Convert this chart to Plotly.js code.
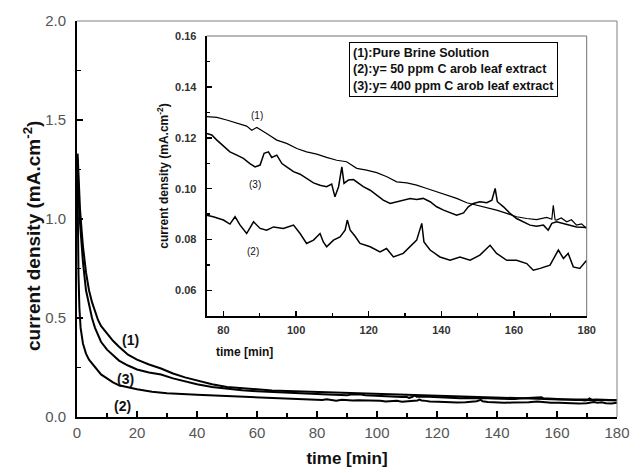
<!DOCTYPE html>
<html>
<head>
<meta charset="utf-8">
<script src="https://cdn.plot.ly/plotly-3.0.1.min.js"></script>
<style>html,body{margin:0;padding:0;background:#fff;}#chart{width:641px;height:473px;}</style>
</head>
<body>
<div id="chart"></div>
<script>
// ---------- data ----------
// early part (main chart only), time in min, current density in mA.cm-2
const s1EarlyT = [0.2,0.5,1,1.5,2,3,4,5,6,7,8,10,12,14,17,20,24,28,32,36,40,45,50,55,60,65,70];
const s1EarlyV = [1.33,1.2,1.05,0.95,0.86,0.73,0.64,0.58,0.53,0.49,0.46,0.42,0.385,0.355,0.315,0.29,0.265,0.245,0.22,0.2,0.185,0.165,0.152,0.145,0.138,0.134,0.131];
const s3EarlyT = [0.2,0.5,1,1.5,2,3,4,5,6,7,8,10,12,14,17,20,24,28,32,36,40,45,50,55,60,65,70];
const s3EarlyV = [1.3,1.12,0.98,0.87,0.78,0.64,0.56,0.5,0.45,0.41,0.38,0.34,0.31,0.285,0.26,0.24,0.225,0.215,0.195,0.18,0.165,0.152,0.142,0.135,0.13,0.127,0.124];
const s2EarlyT = [0.15,0.3,0.5,0.8,1.2,2,3,4,5,6.5,8,10,12,14,17,20,25,30,40,50,60,70];
const s2EarlyV = [1.2,0.95,0.72,0.55,0.45,0.37,0.32,0.29,0.27,0.24,0.215,0.195,0.175,0.16,0.15,0.14,0.128,0.12,0.112,0.105,0.1,0.093];

// late part (shown in both main chart and inset)
const s1LateT = [75.4,78.2,80.9,83.7,86.4,87.8,89.2,91.9,94.7,97.4,100.2,102.9,105.7,108.4,111.2,113.9,116.7,119.4,122.2,125.0,127.7,130.5,133.2,136.0,138.7,141.5,144.2,147.0,149.7,152.5,155.2,158.0,160.7,163.5,166.2,169.0,170.4,170.8,171.3,171.7,173.0,174.5,175.8,177.2,178.6,180];
const s1LateV = [0.1283,0.1280,0.1270,0.1257,0.1246,0.1230,0.1241,0.1217,0.1191,0.1178,0.1158,0.1145,0.1136,0.1123,0.1112,0.1106,0.1080,0.1073,0.1063,0.1047,0.1027,0.1023,0.1014,0.1001,0.0988,0.0975,0.0962,0.0945,0.0936,0.0926,0.0916,0.0903,0.0890,0.0883,0.0879,0.0887,0.0880,0.0935,0.0878,0.0877,0.0885,0.0870,0.0878,0.0857,0.0862,0.0844];
const s3LateT = [75.4,76.8,78.2,80.0,81.8,83.7,85.5,87.3,88.7,90.1,91.2,92.4,93.3,94.7,96.1,97.4,99.3,101.1,102.9,104.8,106.6,108.4,109.8,110.7,111.7,112.6,113.2,114.4,115.8,117.2,118.5,120.4,122.2,124.0,125.9,127.7,129.5,131.4,133.2,135.0,136.9,138.7,140.6,142.4,144.2,146.1,147.4,148.8,150.6,152.5,153.9,154.8,155.4,157.1,158.9,160.7,162.6,164.4,166.2,168.1,169.4,170.4,171.7,173.6,175.4,177.2,180];
const s3LateV = [0.1217,0.1211,0.1191,0.1168,0.1145,0.1132,0.1119,0.1099,0.1086,0.1093,0.1139,0.1145,0.1123,0.1132,0.1099,0.1086,0.1067,0.1057,0.1040,0.1023,0.1014,0.1008,0.1018,0.0968,0.1008,0.1086,0.1021,0.1034,0.1036,0.1021,0.1008,0.0994,0.0975,0.0955,0.0942,0.0949,0.0955,0.0962,0.0958,0.0962,0.0949,0.0929,0.0916,0.0905,0.0896,0.0905,0.0929,0.0942,0.0949,0.0945,0.0955,0.1001,0.0949,0.0929,0.0903,0.0883,0.0870,0.0857,0.0853,0.0857,0.0837,0.0864,0.0870,0.0864,0.0857,0.0850,0.0848];
const s2LateT = [75.4,77.2,80.0,81.8,83.2,84.6,86.4,88.3,90.1,91.9,93.8,96.5,99.3,101.1,102.9,104.8,106.6,107.5,108.4,110.3,112.1,113.5,114.1,114.9,116.2,117.6,120.4,123.1,124.9,126.8,129.5,131.4,133.2,134.6,135.2,136.9,139.6,142.4,145.1,147.9,150.6,153.4,155.2,158.0,160.7,163.5,165.3,167.2,169.9,172.2,173.6,174.9,176.3,178.1,180];
const s2LateV = [0.0896,0.0890,0.0877,0.0861,0.0890,0.0857,0.0824,0.0870,0.0844,0.0837,0.0850,0.0844,0.0857,0.0824,0.0785,0.0798,0.0824,0.0791,0.0772,0.0798,0.0811,0.0837,0.0877,0.0837,0.0814,0.0785,0.0772,0.0752,0.0765,0.0732,0.0746,0.0772,0.0798,0.0864,0.0791,0.0759,0.0732,0.0719,0.0732,0.0719,0.0739,0.0778,0.0746,0.0719,0.0719,0.0706,0.0680,0.0687,0.0700,0.0759,0.0726,0.0746,0.0693,0.0687,0.0719];

const mainXTicks = [0,20,40,60,80,100,120,140,160,180];
const mainYTicks = [0,0.5,1,1.5,2];
const insetXTicks = [80,100,120,140,160,180];
const insetYTicks = [0.06,0.08,0.10,0.12,0.14,0.16];
const seriesNames = ['(1):Pure Brine Solution','(2):y= 50 ppm C arob leaf extract','(3):y= 400 ppm C arob leaf extract'];
const xTitle = 'time [min]';
const yTitle = 'current density (mA.cm<sup>-2</sup>)';

// ---------- traces ----------
const F = 'Arial, "Liberation Sans", sans-serif';
function mainTrace(t, v, name) {
  return {x: t, y: v, name: name, type: 'scatter', mode: 'lines', xaxis: 'x', yaxis: 'y',
          line: {color: '#000', width: 2}, hoverinfo: 'skip'};
}
function insetTrace(t, v, name, w) {
  return {x: t, y: v, name: name, type: 'scatter', mode: 'lines', xaxis: 'x2', yaxis: 'y2',
          line: {color: '#000', width: w}, hoverinfo: 'skip'};
}
const data = [
  mainTrace(s1EarlyT.concat(s1LateT), s1EarlyV.concat(s1LateV), seriesNames[0]),
  mainTrace(s2EarlyT.concat(s2LateT), s2EarlyV.concat(s2LateV), seriesNames[1]),
  mainTrace(s3EarlyT.concat(s3LateT), s3EarlyV.concat(s3LateV), seriesNames[2]),
  insetTrace(s1LateT, s1LateV, seriesNames[0], 1.2),
  insetTrace(s2LateT, s2LateV, seriesNames[1], 1.5),
  insetTrace(s3LateT, s3LateV, seriesNames[2], 1.5)
];

const frameShapes = [
  {type:'line', xref:'x domain', yref:'y domain', x0:0, x1:1, y0:1, y1:1, line:{color:'#808080', width:1}},
  {type:'line', xref:'x domain', yref:'y domain', x0:1, x1:1, y0:0, y1:1, line:{color:'#808080', width:1}},
  {type:'line', xref:'x2 domain', yref:'y2 domain', x0:0, x1:1, y0:1, y1:1, line:{color:'#707070', width:1}},
  {type:'line', xref:'x2 domain', yref:'y2 domain', x0:1, x1:1, y0:0, y1:1, line:{color:'#707070', width:1}}
];

const layout = {
  width: 641, height: 473,
  margin: {l: 0, r: 0, t: 0, b: 0},
  paper_bgcolor: '#fff', plot_bgcolor: 'rgba(0,0,0,0)',
  showlegend: false,
  font: {family: F, color: '#000'},
  xaxis: {
    domain: [77/641, 617/641], range: [0, 180], tickvals: mainXTicks,
    ticks: 'inside', ticklen: 6, tickwidth: 1.5, tickcolor: '#000',
    minor: {tickvals: [10,30,50,70,90,110,130,150,170], ticks: 'inside', ticklen: 4, tickwidth: 1.5, tickcolor: '#000'},
    showline: true, linewidth: 2, linecolor: '#000', mirror: false,
    showgrid: false, zeroline: false,
    tickfont: {family: F, size: 15, color: '#555'}, ticklabelstandoff: 1,
    title: {text: xTitle, font: {family: F, size: 17, weight: 'bold', color: '#111'}, standoff: 12}
  },
  yaxis: {
    domain: [56/473, 452/473], range: [0, 2], tickvals: mainYTicks, tickformat: '.1f',
    ticks: 'inside', ticklen: 6, tickwidth: 1.5, tickcolor: '#000',
    minor: {tickvals: [0.25,0.75,1.25,1.75], ticks: 'inside', ticklen: 4, tickwidth: 1.5, tickcolor: '#000'},
    showline: true, linewidth: 2, linecolor: '#000', mirror: false,
    showgrid: false, zeroline: false,
    tickfont: {family: F, size: 15, color: '#555'}, ticklabelstandoff: 6
  },
  xaxis2: {
    domain: [206.7/641, 586.7/641], range: [75.4, 180], anchor: 'y2', tickvals: insetXTicks,
    ticks: 'inside', ticklen: 5, tickwidth: 1.5, tickcolor: '#000',
    minor: {tickvals: [90,110,130,150,170], ticks: 'inside', ticklen: 3, tickwidth: 1.5, tickcolor: '#000'},
    showline: true, linewidth: 2, linecolor: '#000', mirror: false,
    showgrid: false, zeroline: false,
    tickfont: {family: F, size: 11, color: '#333', weight: 'bold'}, ticklabelstandoff: 3
  },
  yaxis2: {
    domain: [157/473, 437/473], range: [0.05, 0.16], anchor: 'x2', tickvals: insetYTicks, tickformat: '.2f',
    ticks: 'inside', ticklen: 5, tickwidth: 1.5, tickcolor: '#000',
    minor: {tickvals: [0.07,0.09,0.11,0.13,0.15], ticks: 'inside', ticklen: 3, tickwidth: 1.5, tickcolor: '#000'},
    showline: true, linewidth: 2, linecolor: '#000', mirror: false,
    showgrid: false, zeroline: false,
    tickfont: {family: F, size: 11, color: '#333', weight: 'bold'}, ticklabelstandoff: 6,
    title: {text: yTitle, font: {family: F, size: 12, weight: 'bold', color: '#111'}, standoff: 4}
  },
  shapes: frameShapes,
  annotations: [
    // main y-axis title
    {xref:'paper', yref:'paper', x: 32/641, y: (473-236)/473, xanchor:'center', yanchor:'middle', textangle:-90,
     text: yTitle, showarrow:false, font:{family:F, size:19, weight:'bold', color:'#111'}},
    // legend box
    {xref:'paper', yref:'paper', x: 349/641, y: (473-42)/473, xanchor:'left', yanchor:'top', align:'left',
     text: seriesNames.join('<br>'), showarrow:false,
     font:{family:F, size:12.5, weight:'bold', color:'#111'},
     bordercolor:'#000', borderwidth:1, borderpad:3, bgcolor:'#fff'},
    {xref:'x', yref:'y', x: 17.7, y: 0.389, text:'(1)', showarrow:false, font:{family:F, size:14, weight:'bold', color:'#111'}},
    {xref:'x', yref:'y', x: 16.0, y: 0.192, text:'(3)', showarrow:false, font:{family:F, size:14, weight:'bold', color:'#111'}},
    {xref:'x', yref:'y', x: 15.3, y: 0.056, text:'(2)', showarrow:false, font:{family:F, size:14, weight:'bold', color:'#111'}},
    {xref:'x2', yref:'y2', x: 89.3, y: 0.1286, text:'(1)', showarrow:false, font:{family:F, size:10, color:'#111'}},
    {xref:'x2', yref:'y2', x: 88.7, y: 0.1016, text:'(3)', showarrow:false, font:{family:F, size:10, color:'#111'}},
    {xref:'x2', yref:'y2', x: 88.1, y: 0.0755, text:'(2)', showarrow:false, font:{family:F, size:10, color:'#111'}},
    // inset x-axis title
    {xref:'paper', yref:'paper', x: 214/641, y: (473-352)/473, xanchor:'left', yanchor:'middle',
     text: xTitle, showarrow:false, font:{family:F, size:12, weight:'bold', color:'#111'}}
  ]
};

Plotly.newPlot('chart', data, layout, {staticPlot: true, displayModeBar: false});
</script>
</body>
</html>
